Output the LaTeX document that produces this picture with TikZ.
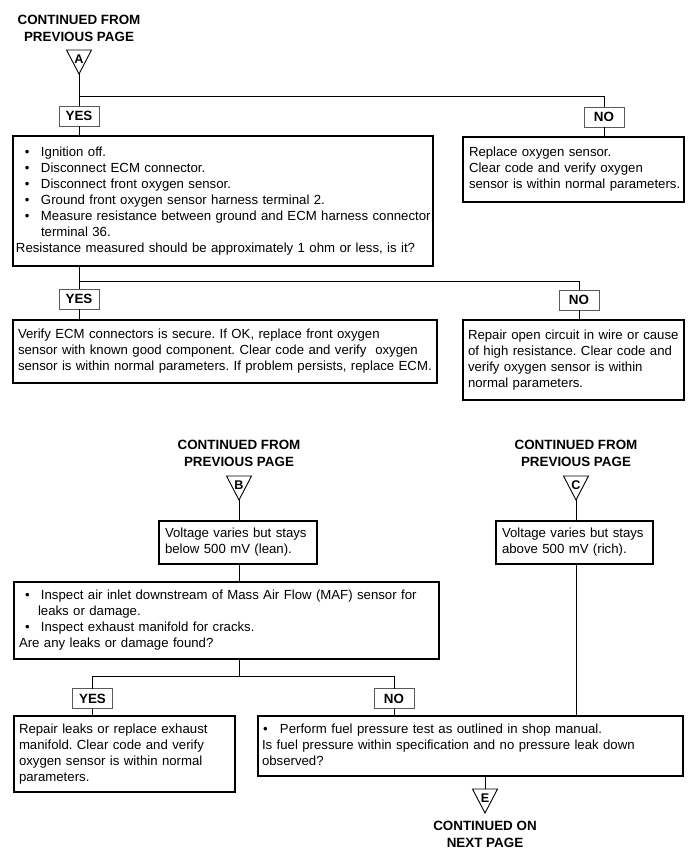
\documentclass[tikz,border=0pt]{standalone}
\usepackage{fontspec}
\setmainfont{Liberation Sans}
\usetikzlibrary{calc}
\frenchspacing
\newcommand\fsn{\fontsize{13.2}{16}\selectfont}
\newcommand\fsb{\fontsize{13.4}{17}\selectfont\bfseries}
\newcommand\bul[2]{\makebox[#2pt][l]{\hspace{#1pt}\textbullet}}
\newcommand\mytri[4]{%
  \draw[tri] (#2-12.5,#3) -- (#2+12.5,#3) -- (#2,#3+24) -- cycle;
  \coordinate (#1apex) at (#2,#3+24);
  \coordinate (#1top) at (#2,#3);
  \node[letter] (#1l) at (#2,#3+8.8) {#4};}
\begin{document}
\begin{tikzpicture}[x=1pt,y=-1pt,
  tbox/.style={draw, line width=1.2pt, anchor=north west, inner ysep=0pt, outer sep=0pt, font=\fsn},
  lbox/.style={draw=black!65, line width=0.9pt, fill=white, minimum width=40pt, minimum height=20pt, inner sep=0pt, outer sep=0pt, font=\fsb},
  cont/.style={align=center, font=\fsb, inner sep=0pt, anchor=north},
  letter/.style={font=\fontsize{12.6}{12.6}\selectfont\bfseries, inner sep=0pt},
  tri/.style={line width=0.9pt, line join=miter},
  conn/.style={line width=1pt}]
\fill[white] (0,0) rectangle (700,853);
\useasboundingbox (0,0) rectangle (700,853);

% ---------- upper part ----------
\node[cont] (contA) at (79,15) {CONTINUED FROM\\PREVIOUS PAGE};
\mytri{A}{79}{50}{A}
\node[lbox] (yes1) at (79,116) {YES};
\node[lbox] (no1) at (604,117) {NO};

\node[tbox, inner xsep=3pt, text width=414pt, minimum height=130pt] (b1) at (13,136) {\noindent
\begin{tabular}{@{}l@{}l@{}}
\bul{9}{25} & Ignition off.\\
\bul{9}{25} & Disconnect ECM connector.\\
\bul{9}{25} & Disconnect front oxygen sensor.\\
\bul{9}{25} & Ground front oxygen sensor harness terminal 2.\\
\bul{9}{25} & Measure resistance between ground and ECM harness connector\\
 & terminal 36.\\
\multicolumn{2}{@{}l@{}}{Resistance measured should be approximately 1 ohm or less, is it?}
\end{tabular}};

\node[tbox, inner xsep=6pt, text width=209pt, minimum height=65pt] (b3) at (463,137) {\noindent
\begin{tabular}{@{}l@{}}
Replace oxygen sensor.\\
Clear code and verify oxygen\\
sensor is within normal parameters.
\end{tabular}};

\node[lbox] (yes2) at (79,299) {YES};
\node[lbox] (no2) at (579,300) {NO};

\node[tbox, inner xsep=5pt, text width=414pt, minimum height=63pt] (b2) at (13,320) {\noindent
\begin{tabular}{@{}l@{}}
Verify ECM connectors is secure. If OK, replace front oxygen\\
sensor with known good component. Clear code and verify\ \ oxygen\\
sensor is within normal parameters. If problem persists, replace ECM.
\end{tabular}};

\node[tbox, inner xsep=5pt, text width=211pt, minimum height=80pt] (b4) at (463,320) {\noindent
\begin{tabular}{@{}l@{}}
Repair open circuit in wire or cause\\
of high resistance. Clear code and\\
verify oxygen sensor is within\\
normal parameters.
\end{tabular}};

% ---------- lower part ----------
\node[cont] (contB) at (239,440) {CONTINUED FROM\\PREVIOUS PAGE};
\mytri{B}{239}{476}{B}
\node[cont] (contC) at (576,440) {CONTINUED FROM\\PREVIOUS PAGE};
\mytri{C}{576}{476}{C}

\node[tbox, inner xsep=6pt, text width=146pt, minimum height=43pt] (bB) at (159,521) {\noindent
\begin{tabular}{@{}l@{}}
Voltage varies but stays\\
below 500 mV (lean).
\end{tabular}};

\node[tbox, inner xsep=6pt, text width=145pt, minimum height=43pt] (bC) at (496,521) {\noindent
\begin{tabular}{@{}l@{}}
Voltage varies but stays\\
above 500 mV (rich).
\end{tabular}};

\node[tbox, inner xsep=5pt, text width=415pt, minimum height=77pt] (b5) at (14,582) {\noindent
\begin{tabular}{@{}l@{}l@{}}
\bul{6}{22} & Inspect air inlet downstream of Mass Air Flow (MAF) sensor for\\
 & \hspace{-3pt}leaks or damage.\\
\bul{6}{22} & Inspect exhaust manifold for cracks.\\
\multicolumn{2}{@{}l@{}}{Are any leaks or damage found?}
\end{tabular}};

\node[lbox] (yes3) at (92.5,698.5) {YES};
\node[lbox] (no3) at (394,698.5) {NO};

\node[tbox, inner xsep=5pt, text width=211pt, minimum height=76pt] (b6) at (14,716) {\noindent
\begin{tabular}{@{}l@{}}
Repair leaks or replace exhaust\\
manifold. Clear code and verify\\
oxygen sensor is within normal\\
parameters.
\end{tabular}};

\node[tbox, inner xsep=4pt, text width=417pt, minimum height=60pt] (b7) at (258,716) {\noindent
\begin{tabular}{@{}l@{}l@{}}
\bul{1}{18} & Perform fuel pressure test as outlined in shop manual.\\
\multicolumn{2}{@{}l@{}}{Is fuel pressure within specification and no pressure leak down}\\
\multicolumn{2}{@{}l@{}}{observed?}
\end{tabular}};

\mytri{E}{485}{789}{E}
\node[cont] (contE) at (485,821) {CONTINUED ON\\NEXT PAGE};

% ---------- connectors ----------
\coordinate (j1) at (79,97);
\coordinate (j2) at (79,281);
\coordinate (j3) at (239,676);
\draw[conn] (Aapex) -- (yes1);
\draw[conn] (yes1) -- (yes1 |- b1.north);
\draw[conn] (j1) -| (no1);
\draw[conn] (no1) -- (no1 |- b3.north);
\draw[conn] (yes1 |- b1.south) -- (yes2);
\draw[conn] (yes2) -- (yes2 |- b2.north);
\draw[conn] (j2) -| (no2);
\draw[conn] (no2) -- (no2 |- b4.north);

\draw[conn] (Bapex) -- (Bapex |- bB.north);
\draw[conn] (Bapex |- bB.south) -- (Bapex |- b5.north);
\draw[conn] (Bapex |- b5.south) -- (j3);
\draw[conn] (j3) -| (yes3);
\draw[conn] (j3) -| (no3);
\draw[conn] (yes3) -- (yes3 |- b6.north);
\draw[conn] (no3) -- (no3 |- b7.north);

\draw[conn] (Capex) -- (Capex |- bC.north);
\draw[conn] (Capex |- bC.south) -- (Capex |- b7.north);
\draw[conn] (Etop |- b7.south) -- (Etop);
\end{tikzpicture}
\end{document}
